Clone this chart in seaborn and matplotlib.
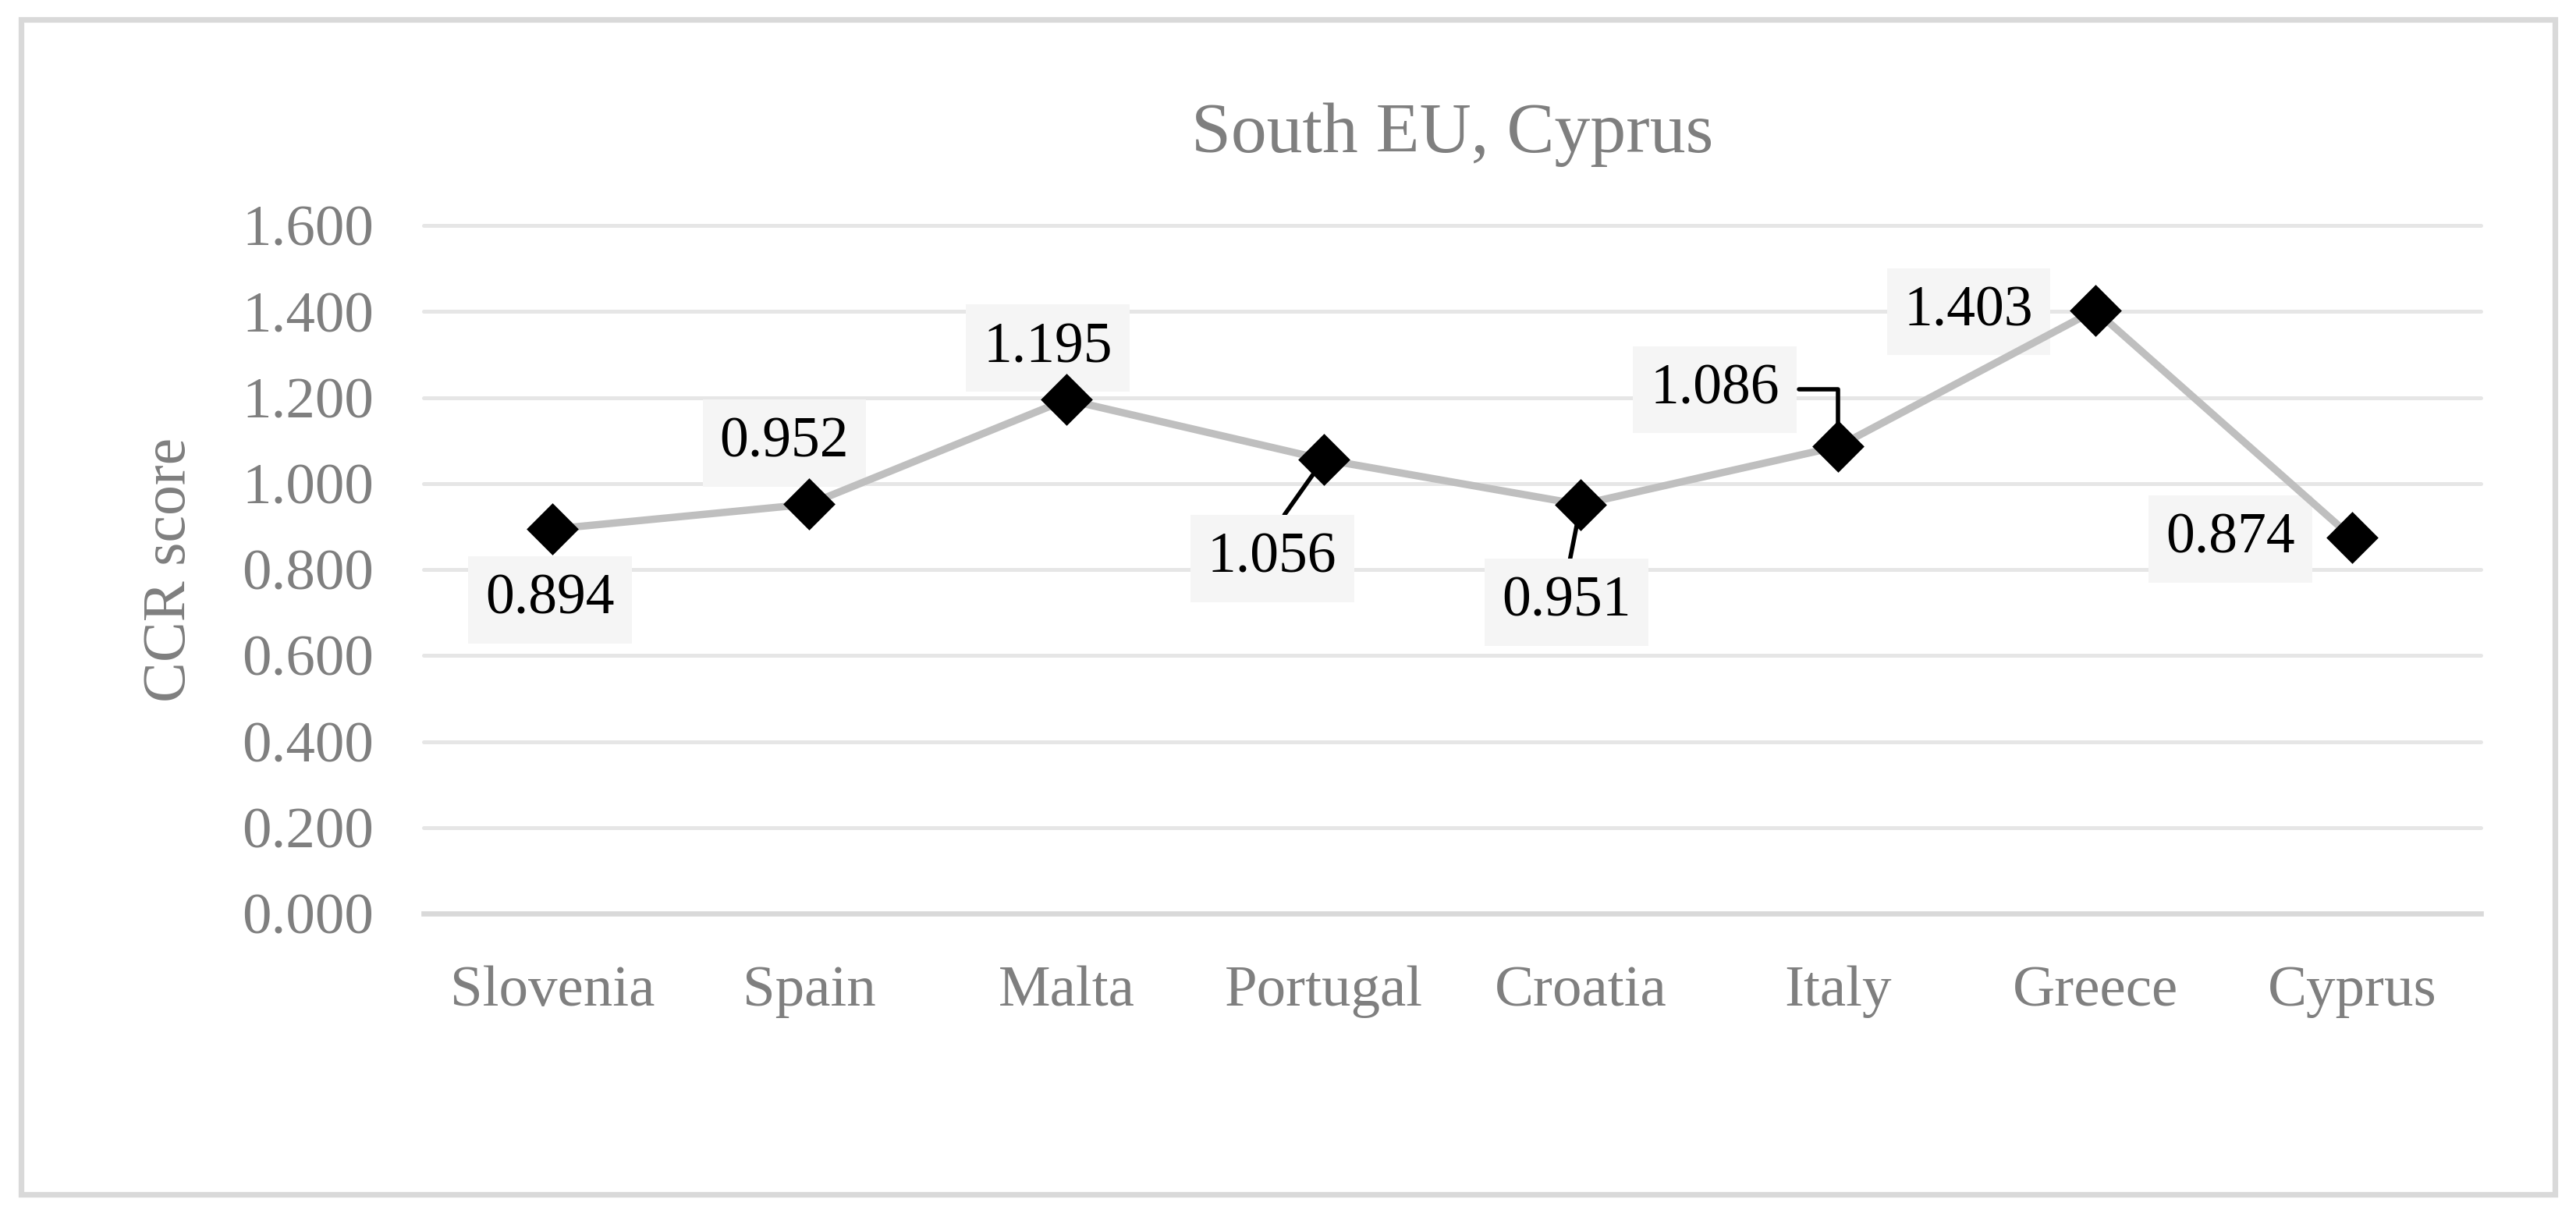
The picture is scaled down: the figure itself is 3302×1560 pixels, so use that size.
import matplotlib
matplotlib.use("Agg")
import matplotlib.pyplot as plt
import seaborn as sns
import pandas as pd
from matplotlib.patches import Rectangle

# chart data
countries = ["Slovenia", "Spain", "Malta", "Portugal", "Croatia", "Italy", "Greece", "Cyprus"]
ccr_scores = [0.894, 0.952, 1.195, 1.056, 0.951, 1.086, 1.403, 0.874]
y_ticks = [0.0, 0.2, 0.4, 0.6, 0.8, 1.0, 1.2, 1.4, 1.6]

# label placement (offset in pixels from the point) and leader style
label_offsets = [(-3, -91), (-32, 78), (-24, 66), (-66, -127),
                 (-18, -125), (-158, 73), (-162, -2), (-156, -2)]
leaders = [None, None, None, "up", "up", "elbow", None, None]

df = pd.DataFrame({"country": countries, "score": ccr_scores})

sns.set_style("white")
plt.rcParams["font.family"] = ["Liberation Serif", "DejaVu Serif"]

GREY_TXT = "#7f7f7f"
fig = plt.figure(figsize=(16.51, 7.8), dpi=200)
ax = fig.add_axes([543 / 3302, 1 - 1171 / 1560, 2637 / 3302, 882 / 1560])

sns.lineplot(data=df, x="country", y="score", color="#bfbfbf", linewidth=3.4,
             sort=False, ax=ax, zorder=3)
sns.scatterplot(data=df, x="country", y="score", marker="D", s=17 ** 2,
                color="black", linewidth=0, ax=ax, zorder=4)

ax.set_xlim(-0.5, len(countries) - 0.5)
ax.set_ylim(0, 1.6)
ax.set_yticks(y_ticks)
ax.set_yticklabels([f"{t:.3f}" for t in y_ticks])
ax.tick_params(axis="y", length=0, pad=23, labelsize=27, labelcolor=GREY_TXT)
ax.tick_params(axis="x", length=0, pad=24, labelsize=27, labelcolor=GREY_TXT)
ax.set_xlabel("")
ax.set_ylabel("CCR score", fontsize=28, color=GREY_TXT)
ax.yaxis.set_label_coords(-0.1096, 0.5)

for side in ["top", "right", "left"]:
    ax.spines[side].set_visible(False)
ax.spines["bottom"].set_color("#d9d9d9")
ax.spines["bottom"].set_linewidth(2.4)

ax.set_axisbelow(True)
ax.yaxis.grid(True, color="#e6e6e6", linewidth=1.8)
for gl in ax.get_ygridlines():
    gl.set_clip_on(False)

ax.set_title("South EU, Cyprus", fontsize=33, color=GREY_TXT, pad=34)

# data labels
box = dict(boxstyle="square,pad=0.3", fc="#f5f5f5", ec="none")
for i, (val, (dx, dy), lead) in enumerate(zip(ccr_scores, label_offsets, leaders)):
    kw = {}
    if lead == "up":
        kw["arrowprops"] = dict(arrowstyle="-", color="black", lw=2.0,
                                relpos=(0.5, 1.0), shrinkA=0, shrinkB=8)
    elif lead == "elbow":
        kw["arrowprops"] = dict(arrowstyle="-", color="black", lw=2.0,
                                relpos=(1.0, 0.5), shrinkA=1, shrinkB=11,
                                connectionstyle="angle,angleA=0,angleB=90,rad=0")
    ax.annotate(f"{val:.3f}", xy=(i, val), xytext=(dx, dy),
                textcoords="offset pixels", ha="center", va="center",
                fontsize=26.5, color="black", bbox=box, zorder=2, **kw)

# outer frame of the chart
fig.patches.append(Rectangle((27 / 3302, 1 - 1531 / 1560), 3248 / 3302, 1506 / 1560,
                             transform=fig.transFigure, fill=False,
                             edgecolor="#d9d9d9", linewidth=2.6))

fig.savefig("out.png", dpi=200, facecolor="white")
